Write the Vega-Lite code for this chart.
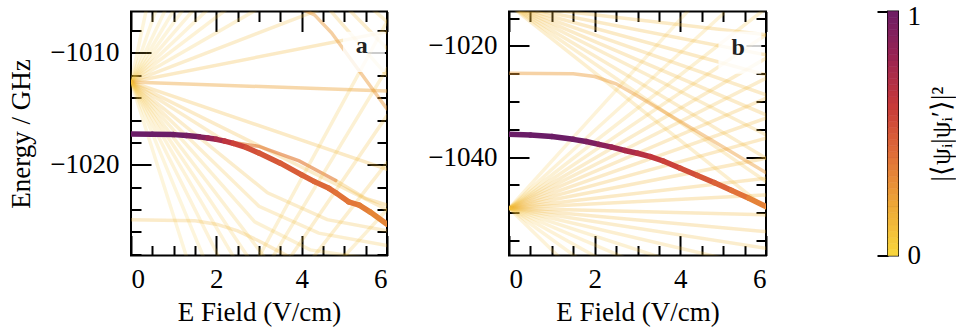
{
"$schema": "https://vega.github.io/schema/vega-lite/v6.json",
"background": "white",
"padding": {"left": 6, "top": 1.5, "right": 0, "bottom": 0},
"bounds": "flush",
"spacing": 122,
"config": {
  "view": {"stroke": "black", "strokeWidth": 2},
  "font": "Liberation Serif",
  "axis": {"labelFont": "Liberation Serif", "titleFont": "Liberation Serif", "labelFontSize": 27, "titleFontSize": 27, "titleFontWeight": "normal", "labelColor": "black", "titleColor": "black", "tickColor": "black", "tickWidth": 2, "domain": false, "grid": false, "format": "d"}
},
"datasets": {
"a_lines": [
{"id":"u1","E":0,"y":-1012.6,"v":0.14},{"id":"u1","E":6,"y":-1008.1,"v":0.14},
{"id":"u2","E":0,"y":-1012.6,"v":0.12},{"id":"u2","E":6,"y":-1003.8,"v":0.12},
{"id":"u3","E":0,"y":-1012.6,"v":0.1},{"id":"u3","E":6,"y":-999.4,"v":0.1},
{"id":"u4","E":0,"y":-1012.6,"v":0.09},{"id":"u4","E":6,"y":-995.2,"v":0.09},
{"id":"u5","E":0,"y":-1012.6,"v":0.08},{"id":"u5","E":6,"y":-991.0,"v":0.08},
{"id":"u6","E":0,"y":-1012.6,"v":0.08},{"id":"u6","E":3,"y":-999.4,"v":0.08},
{"id":"u7","E":0,"y":-1012.6,"v":0.07},{"id":"u7","E":3,"y":-996.7,"v":0.07},
{"id":"u8","E":0,"y":-1012.6,"v":0.07},{"id":"u8","E":2,"y":-999.8,"v":0.07},
{"id":"u9","E":0,"y":-1012.6,"v":0.07},{"id":"u9","E":1,"y":-1004.6,"v":0.07},
{"id":"u10","E":0,"y":-1012.6,"v":0.07},{"id":"u10","E":1,"y":-1001.6,"v":0.07},
{"id":"u11","E":0,"y":-1012.6,"v":0.07},{"id":"u11","E":0.5,"y":-1003.6,"v":0.07},
{"id":"h0","E":0,"y":-1012.6,"v":0.22},{"id":"h0","E":6,"y":-1013.4,"v":0.22},
{"id":"d1","E":0,"y":-1012.6,"v":0.14},{"id":"d1","E":6,"y":-1020.4,"v":0.14},
{"id":"d2","E":0,"y":-1012.6,"v":0.13},{"id":"d2","E":6,"y":-1024.0,"v":0.13},
{"id":"d3","E":0,"y":-1012.6,"v":0.12},{"id":"d3","E":3.2,"y":-1022.5,"v":0.12},{"id":"d3","E":4.6,"y":-1024.9,"v":0.12},{"id":"d3","E":6,"y":-1025.9,"v":0.12},
{"id":"d4","E":0,"y":-1012.6,"v":0.11},{"id":"d4","E":3,"y":-1023.7,"v":0.11},{"id":"d4","E":4.4,"y":-1026.1,"v":0.11},{"id":"d4","E":6,"y":-1027.2,"v":0.11},
{"id":"d5","E":0,"y":-1012.6,"v":0.1},{"id":"d5","E":2.9,"y":-1025.1,"v":0.1},{"id":"d5","E":4.2,"y":-1027.6,"v":0.1},{"id":"d5","E":6,"y":-1028.6,"v":0.1},
{"id":"d6","E":0,"y":-1012.6,"v":0.1},{"id":"d6","E":4,"y":-1032.6,"v":0.1},
{"id":"d7","E":0,"y":-1012.6,"v":0.09},{"id":"d7","E":4,"y":-1035.4,"v":0.09},
{"id":"d8","E":0,"y":-1012.6,"v":0.08},{"id":"d8","E":3,"y":-1032.1,"v":0.08},
{"id":"d9","E":0,"y":-1012.6,"v":0.08},{"id":"d9","E":3,"y":-1035.4,"v":0.08},
{"id":"d10","E":0,"y":-1012.6,"v":0.07},{"id":"d10","E":2,"y":-1031.0,"v":0.07},
{"id":"d11","E":0,"y":-1012.6,"v":0.07},{"id":"d11","E":2,"y":-1036.6,"v":0.07},
{"id":"t1","E":0,"y":-1012.6,"v":0.12},{"id":"t1","E":2.2,"y":-1017.9,"v":0.12},
{"id":"t2","E":2.2,"y":-1017.9,"v":0.35},{"id":"t2","E":3,"y":-1018.35,"v":0.35},{"id":"t2","E":3.94,"y":-1019.65,"v":0.35},{"id":"t2","E":4.8,"y":-1021.4,"v":0.35},
{"id":"t3","E":4.8,"y":-1021.4,"v":0.15},{"id":"t3","E":5.5,"y":-1023.0,"v":0.15},{"id":"t3","E":6,"y":-1023.6,"v":0.15},
{"id":"L","E":0,"y":-1024.9,"v":0.13},{"id":"L","E":1.5,"y":-1025.0,"v":0.13},{"id":"L","E":2,"y":-1025.3,"v":0.13},{"id":"L","E":2.5,"y":-1025.9,"v":0.13},{"id":"L","E":3,"y":-1026.8,"v":0.13},{"id":"L","E":3.5,"y":-1027.8,"v":0.13},{"id":"L","E":4,"y":-1028.8,"v":0.13},
{"id":"r1","E":2.9,"y":-1028.9,"v":0.1},{"id":"r1","E":6,"y":-1007.2,"v":0.1},
{"id":"r2","E":3.2,"y":-1029.0,"v":0.1},{"id":"r2","E":6,"y":-1011.4,"v":0.1},
{"id":"r3","E":3.6,"y":-1029.0,"v":0.11},{"id":"r3","E":6,"y":-1015.6,"v":0.11},
{"id":"r4","E":4.1,"y":-1029.1,"v":0.11},{"id":"r4","E":6,"y":-1019.8,"v":0.11},
{"id":"r5","E":4.8,"y":-1029.0,"v":0.1},{"id":"r5","E":6,"y":-1024.0,"v":0.1},
{"id":"q1","E":3.9,"y":-1005.9,"v":0.25},{"id":"q1","E":4.3,"y":-1006.6,"v":0.25},{"id":"q1","E":4.7,"y":-1008.2,"v":0.25},{"id":"q1","E":6,"y":-1015.0,"v":0.25},
{"id":"q2","E":4.6,"y":-1005.9,"v":0.12},{"id":"q2","E":6,"y":-1012.0,"v":0.12},
{"id":"q3","E":5.05,"y":-1005.9,"v":0.12},{"id":"q3","E":6,"y":-1009.6,"v":0.12},
{"id":"q4","E":5.6,"y":-1005.9,"v":0.1},{"id":"q4","E":6,"y":-1007.2,"v":0.1}
],
"a_main": [
{"id":"s1","E":0,"y":-1017.25,"v":1},{"id":"s1","E":0.5,"y":-1017.26,"v":1},
{"id":"s2","E":0.5,"y":-1017.26,"v":1},{"id":"s2","E":1.0,"y":-1017.3,"v":1},
{"id":"s3","E":1.0,"y":-1017.3,"v":0.99},{"id":"s3","E":1.3,"y":-1017.38,"v":0.99},
{"id":"s4","E":1.3,"y":-1017.38,"v":0.955},{"id":"s4","E":1.6,"y":-1017.5,"v":0.955},
{"id":"s5","E":1.6,"y":-1017.5,"v":0.895},{"id":"s5","E":1.8,"y":-1017.6,"v":0.895},
{"id":"s6","E":1.8,"y":-1017.6,"v":0.82},{"id":"s6","E":2.0,"y":-1017.72,"v":0.82},
{"id":"s7","E":2.0,"y":-1017.72,"v":0.73},{"id":"s7","E":2.2,"y":-1017.88,"v":0.73},
{"id":"s8","E":2.2,"y":-1017.88,"v":0.64},{"id":"s8","E":2.4,"y":-1018.08,"v":0.64},
{"id":"s9","E":2.4,"y":-1018.08,"v":0.57},{"id":"s9","E":2.7,"y":-1018.45,"v":0.57},
{"id":"s10","E":2.7,"y":-1018.45,"v":0.52},{"id":"s10","E":3.0,"y":-1018.95,"v":0.52},
{"id":"s11","E":3.0,"y":-1018.95,"v":0.49},{"id":"s11","E":3.5,"y":-1019.85,"v":0.49},
{"id":"s12","E":3.5,"y":-1019.85,"v":0.47},{"id":"s12","E":4.0,"y":-1020.9,"v":0.47},
{"id":"s13","E":4.0,"y":-1020.9,"v":0.45},{"id":"s13","E":4.3,"y":-1021.5,"v":0.45},
{"id":"s14","E":4.3,"y":-1021.5,"v":0.43},{"id":"s14","E":4.64,"y":-1022.1,"v":0.43},
{"id":"s15","E":4.64,"y":-1022.1,"v":0.41},{"id":"s15","E":4.8,"y":-1022.5,"v":0.41},
{"id":"s16","E":4.8,"y":-1022.5,"v":0.39},{"id":"s16","E":5.1,"y":-1023.3,"v":0.39},
{"id":"s17","E":5.1,"y":-1023.3,"v":0.37},{"id":"s17","E":5.35,"y":-1023.6,"v":0.37},
{"id":"s18","E":5.35,"y":-1023.6,"v":0.35},{"id":"s18","E":5.6,"y":-1024.2,"v":0.35},
{"id":"s19","E":5.6,"y":-1024.2,"v":0.32},{"id":"s19","E":6.0,"y":-1025.3,"v":0.32}
],
"b_lines": [
{"id":"bu1","E":0,"y":-1049.2,"v":0.14},{"id":"bu1","E":6,"y":-1046.8,"v":0.14},
{"id":"bu2","E":0,"y":-1049.2,"v":0.14},{"id":"bu2","E":6,"y":-1043.8,"v":0.14},
{"id":"bu3","E":0,"y":-1049.2,"v":0.14},{"id":"bu3","E":6,"y":-1040.2,"v":0.14},
{"id":"bu4","E":0,"y":-1049.2,"v":0.14},{"id":"bu4","E":6,"y":-1036.6,"v":0.14},
{"id":"bu5","E":0,"y":-1049.2,"v":0.13},{"id":"bu5","E":6,"y":-1033.0,"v":0.13},
{"id":"bu6","E":0,"y":-1049.2,"v":0.13},{"id":"bu6","E":6,"y":-1029.4,"v":0.13},
{"id":"bu7","E":0,"y":-1049.2,"v":0.12},{"id":"bu7","E":6,"y":-1025.8,"v":0.12},
{"id":"bu8","E":0,"y":-1049.2,"v":0.12},{"id":"bu8","E":6,"y":-1022.2,"v":0.12},
{"id":"bu9","E":0,"y":-1049.2,"v":0.11},{"id":"bu9","E":6,"y":-1018.0,"v":0.11},
{"id":"bu10","E":0,"y":-1049.2,"v":0.1},{"id":"bu10","E":6,"y":-1013.2,"v":0.1},
{"id":"bu11","E":0,"y":-1049.2,"v":0.09},{"id":"bu11","E":5,"y":-1014.2,"v":0.09},
{"id":"bu12","E":0,"y":-1049.2,"v":0.08},{"id":"bu12","E":4.2,"y":-1013.5,"v":0.08},
{"id":"bd1","E":0,"y":-1049.2,"v":0.14},{"id":"bd1","E":6,"y":-1050.4,"v":0.14},
{"id":"bd2","E":0,"y":-1049.2,"v":0.13},{"id":"bd2","E":6,"y":-1053.4,"v":0.13},
{"id":"bd3","E":0,"y":-1049.2,"v":0.12},{"id":"bd3","E":6,"y":-1056.4,"v":0.12},
{"id":"bd4","E":0,"y":-1049.2,"v":0.11},{"id":"bd4","E":5,"y":-1058.2,"v":0.11},
{"id":"bd5","E":0,"y":-1049.2,"v":0.1},{"id":"bd5","E":3.6,"y":-1058.2,"v":0.1},
{"id":"bd6","E":0,"y":-1049.2,"v":0.09},{"id":"bd6","E":2.8,"y":-1058.44,"v":0.09},
{"id":"bd7","E":0,"y":-1049.2,"v":0.09},{"id":"bd7","E":2.2,"y":-1058.66,"v":0.09},
{"id":"bd8","E":0,"y":-1049.2,"v":0.08},{"id":"bd8","E":1.7,"y":-1058.72,"v":0.08},
{"id":"bd9","E":0,"y":-1049.2,"v":0.08},{"id":"bd9","E":1.3,"y":-1058.95,"v":0.08},
{"id":"bt1","E":0,"y":-1012.6,"v":0.14},{"id":"bt1","E":6,"y":-1018.0,"v":0.14},
{"id":"bt2","E":0,"y":-1012.6,"v":0.14},{"id":"bt2","E":6,"y":-1021.6,"v":0.14},
{"id":"bt3","E":0,"y":-1012.6,"v":0.14},{"id":"bt3","E":6,"y":-1025.2,"v":0.14},
{"id":"bt4","E":0,"y":-1012.6,"v":0.13},{"id":"bt4","E":6,"y":-1028.8,"v":0.13},
{"id":"bt5","E":0,"y":-1012.6,"v":0.13},{"id":"bt5","E":6,"y":-1032.4,"v":0.13},
{"id":"bt6","E":0,"y":-1012.6,"v":0.12},{"id":"bt6","E":6,"y":-1036.0,"v":0.12},
{"id":"bt7","E":0,"y":-1012.6,"v":0.12},{"id":"bt7","E":6,"y":-1040.2,"v":0.12},
{"id":"bt8","E":0,"y":-1012.6,"v":0.11},{"id":"bt8","E":6,"y":-1044.4,"v":0.11},
{"id":"bt9","E":0,"y":-1012.6,"v":0.11},{"id":"bt9","E":6,"y":-1049.2,"v":0.11},
{"id":"bf","E":0,"y":-1024.9,"v":0.24},{"id":"bf","E":1.5,"y":-1025.0,"v":0.24},{"id":"bf","E":2.0,"y":-1025.5,"v":0.24},{"id":"bf","E":2.5,"y":-1026.8,"v":0.24},{"id":"bf","E":3.0,"y":-1029.0,"v":0.24},{"id":"bf","E":3.5,"y":-1031.3,"v":0.24},{"id":"bf","E":4.0,"y":-1033.6,"v":0.24},{"id":"bf","E":5.0,"y":-1038.2,"v":0.24},{"id":"bf","E":6.0,"y":-1042.8,"v":0.24}
],
"b_main": [
{"id":"m1","E":0,"y":-1035.9,"v":1},{"id":"m1","E":0.5,"y":-1036.0,"v":1},
{"id":"m2","E":0.5,"y":-1036.0,"v":1},{"id":"m2","E":1.0,"y":-1036.3,"v":1},
{"id":"m3","E":1.0,"y":-1036.3,"v":0.995},{"id":"m3","E":1.5,"y":-1036.8,"v":0.995},
{"id":"m4","E":1.5,"y":-1036.8,"v":0.975},{"id":"m4","E":1.8,"y":-1037.2,"v":0.975},
{"id":"m5","E":1.8,"y":-1037.2,"v":0.93},{"id":"m5","E":2.1,"y":-1037.7,"v":0.93},
{"id":"m6","E":2.1,"y":-1037.7,"v":0.865},{"id":"m6","E":2.4,"y":-1038.2,"v":0.865},
{"id":"m7","E":2.4,"y":-1038.2,"v":0.795},{"id":"m7","E":2.7,"y":-1038.8,"v":0.795},
{"id":"m8","E":2.7,"y":-1038.8,"v":0.73},{"id":"m8","E":3.0,"y":-1039.3,"v":0.73},
{"id":"m9","E":3.0,"y":-1039.3,"v":0.675},{"id":"m9","E":3.3,"y":-1039.9,"v":0.675},
{"id":"m10","E":3.3,"y":-1039.9,"v":0.625},{"id":"m10","E":3.6,"y":-1040.7,"v":0.625},
{"id":"m11","E":3.6,"y":-1040.7,"v":0.575},{"id":"m11","E":4.0,"y":-1042.0,"v":0.575},
{"id":"m12","E":4.0,"y":-1042.0,"v":0.53},{"id":"m12","E":4.4,"y":-1043.3,"v":0.53},
{"id":"m13","E":4.4,"y":-1043.3,"v":0.49},{"id":"m13","E":4.8,"y":-1044.6,"v":0.49},
{"id":"m14","E":4.8,"y":-1044.6,"v":0.445},{"id":"m14","E":5.2,"y":-1046.0,"v":0.445},
{"id":"m15","E":5.2,"y":-1046.0,"v":0.39},{"id":"m15","E":5.6,"y":-1047.4,"v":0.39},
{"id":"m16","E":5.6,"y":-1047.4,"v":0.33},{"id":"m16","E":6.0,"y":-1048.9,"v":0.33}
],
"a_box": [{"x1":4.97,"x2":5.95,"y1":-1011.7,"y2":-1008.1,"tx":5.41,"ty":-1009.35,"t":"a"}],
"b_box": [{"x1":4.89,"x2":5.89,"y1":-1025.0,"y2":-1017.4,"tx":5.35,"ty":-1020.4,"t":"b"}],
"cbar": [
{"lo":0,"hi":0.025},{"lo":0.025,"hi":0.05},{"lo":0.05,"hi":0.075},{"lo":0.075,"hi":0.1},
{"lo":0.1,"hi":0.125},{"lo":0.125,"hi":0.15},{"lo":0.15,"hi":0.175},{"lo":0.175,"hi":0.2},
{"lo":0.2,"hi":0.225},{"lo":0.225,"hi":0.25},{"lo":0.25,"hi":0.275},{"lo":0.275,"hi":0.3},
{"lo":0.3,"hi":0.325},{"lo":0.325,"hi":0.35},{"lo":0.35,"hi":0.375},{"lo":0.375,"hi":0.4},
{"lo":0.4,"hi":0.425},{"lo":0.425,"hi":0.45},{"lo":0.45,"hi":0.475},{"lo":0.475,"hi":0.5},
{"lo":0.5,"hi":0.525},{"lo":0.525,"hi":0.55},{"lo":0.55,"hi":0.575},{"lo":0.575,"hi":0.6},
{"lo":0.6,"hi":0.625},{"lo":0.625,"hi":0.65},{"lo":0.65,"hi":0.675},{"lo":0.675,"hi":0.7},
{"lo":0.7,"hi":0.725},{"lo":0.725,"hi":0.75},{"lo":0.75,"hi":0.775},{"lo":0.775,"hi":0.8},
{"lo":0.8,"hi":0.825},{"lo":0.825,"hi":0.85},{"lo":0.85,"hi":0.875},{"lo":0.875,"hi":0.9},
{"lo":0.9,"hi":0.925},{"lo":0.925,"hi":0.95},{"lo":0.95,"hi":0.975},{"lo":0.975,"hi":1}
]
},
"hconcat": [
{
 "width": 256, "height": 244,
 "resolve": {"axis": {"x": "independent", "y": "independent"}},
 "layer": [
  {"data": {"name": "a_lines"}, "mark": {"type": "line", "clip": true, "strokeWidth": 3.5, "strokeCap": "round"},
   "encoding": {
    "x": {"field": "E", "type": "quantitative", "scale": {"domain": [0, 6], "nice": false, "zero": false}, "axis": {"orient": "bottom", "values": [0, 2, 4, 6], "offset": -20, "tickSize": 20, "labelPadding": 11, "title": "E Field (V/cm)", "titlePadding": 7}},
    "y": {"field": "y", "type": "quantitative", "scale": {"domain": [-1028.1, -1006.3], "nice": false, "zero": false}, "axis": {"orient": "left", "values": [-1020, -1010], "offset": -20, "tickSize": 20, "labelPadding": 12, "title": "Energy / GHz", "titlePadding": 14}},
    "detail": {"field": "id"},
    "color": {"field": "v", "type": "quantitative", "legend": null, "scale": {"type": "linear", "domain": [0, 0.2, 0.4, 0.6, 0.8, 1], "range": ["#f8d43c", "#eda637", "#e06f38", "#c83a39", "#9a2352", "#6a1d67"], "interpolate": "rgb"}},
    "opacity": {"field": "v", "type": "quantitative", "legend": null, "scale": {"type": "linear", "domain": [0, 0.1, 0.3, 0.5, 1], "range": [0.08, 0.22, 0.55, 0.88, 1]}}
   }},
  {"data": {"name": "a_main"}, "mark": {"type": "line", "clip": true, "strokeWidth": 5.5, "strokeCap": "round"},
   "encoding": {
    "x": {"field": "E", "type": "quantitative", "scale": {"domain": [0, 6], "nice": false, "zero": false}, "axis": {"orient": "bottom", "values": [0.5, 1, 1.5, 2.5, 3, 3.5, 4.5, 5, 5.5], "offset": -10, "tickSize": 10, "labels": false, "title": null}},
    "y": {"field": "y", "type": "quantitative", "scale": {"domain": [-1028.1, -1006.3], "nice": false, "zero": false}, "axis": {"orient": "left", "values": [-1028, -1026, -1024, -1022, -1018, -1016, -1014, -1012, -1008], "offset": -10, "tickSize": 10, "labels": false, "title": null}},
    "detail": {"field": "id"},
    "color": {"field": "v", "type": "quantitative", "legend": null, "scale": {"type": "linear", "domain": [0, 0.2, 0.4, 0.6, 0.8, 1], "range": ["#f8d43c", "#eda637", "#e06f38", "#c83a39", "#9a2352", "#6a1d67"], "interpolate": "rgb"}}
   }},
  {"data": {"name": "a_box"}, "mark": {"type": "rect", "fill": "white", "fillOpacity": 0.8},
   "encoding": {
    "x": {"field": "x1", "type": "quantitative", "scale": {"domain": [0, 6], "nice": false, "zero": false}, "axis": {"orient": "top", "values": [0, 2, 4, 6], "offset": -20, "tickSize": 20, "labels": false, "title": null}},
    "x2": {"field": "x2"},
    "y": {"field": "y1", "type": "quantitative", "scale": {"domain": [-1028.1, -1006.3], "nice": false, "zero": false}, "axis": {"orient": "right", "values": [-1020, -1010], "offset": -20, "tickSize": 20, "labels": false, "title": null}},
    "y2": {"field": "y2"}
   }},
  {"data": {"name": "a_box"}, "mark": {"type": "text", "font": "Liberation Serif", "fontSize": 24, "fontWeight": "bold", "color": "#222222", "baseline": "middle", "align": "center"},
   "encoding": {
    "x": {"field": "tx", "type": "quantitative", "scale": {"domain": [0, 6], "nice": false, "zero": false}, "axis": {"orient": "top", "values": [0.5, 1, 1.5, 2.5, 3, 3.5, 4.5, 5, 5.5], "offset": -10, "tickSize": 10, "labels": false, "title": null}},
    "y": {"field": "ty", "type": "quantitative", "scale": {"domain": [-1028.1, -1006.3], "nice": false, "zero": false}, "axis": {"orient": "right", "values": [-1028, -1026, -1024, -1022, -1018, -1016, -1014, -1012, -1008], "offset": -10, "tickSize": 10, "labels": false, "title": null}},
    "text": {"field": "t"}
   }}
 ]
},
{
 "width": 257, "height": 244,
 "resolve": {"axis": {"x": "independent", "y": "independent"}},
 "layer": [
  {"data": {"name": "b_lines"}, "mark": {"type": "line", "clip": true, "strokeWidth": 3.5, "strokeCap": "round"},
   "encoding": {
    "x": {"field": "E", "type": "quantitative", "scale": {"domain": [0, 6], "nice": false, "zero": false}, "axis": {"orient": "bottom", "values": [0, 2, 4, 6], "offset": -20, "tickSize": 20, "labelPadding": 11, "title": "E Field (V/cm)", "titlePadding": 7}},
    "y": {"field": "y", "type": "quantitative", "scale": {"domain": [-1057.7, -1013.8], "nice": false, "zero": false}, "axis": {"orient": "left", "values": [-1040, -1020], "offset": -20, "tickSize": 20, "labelPadding": 12, "title": null}},
    "detail": {"field": "id"},
    "color": {"field": "v", "type": "quantitative", "legend": null, "scale": {"type": "linear", "domain": [0, 0.2, 0.4, 0.6, 0.8, 1], "range": ["#f8d43c", "#eda637", "#e06f38", "#c83a39", "#9a2352", "#6a1d67"], "interpolate": "rgb"}},
    "opacity": {"field": "v", "type": "quantitative", "legend": null, "scale": {"type": "linear", "domain": [0, 0.1, 0.3, 0.5, 1], "range": [0.08, 0.22, 0.55, 0.88, 1]}}
   }},
  {"data": {"name": "b_main"}, "mark": {"type": "line", "clip": true, "strokeWidth": 5.5, "strokeCap": "round"},
   "encoding": {
    "x": {"field": "E", "type": "quantitative", "scale": {"domain": [0, 6], "nice": false, "zero": false}, "axis": {"orient": "bottom", "values": [0.5, 1, 1.5, 2.5, 3, 3.5, 4.5, 5, 5.5], "offset": -10, "tickSize": 10, "labels": false, "title": null}},
    "y": {"field": "y", "type": "quantitative", "scale": {"domain": [-1057.7, -1013.8], "nice": false, "zero": false}, "axis": {"orient": "left", "values": [-1055, -1050, -1045, -1035, -1030, -1025, -1015], "offset": -10, "tickSize": 10, "labels": false, "title": null}},
    "detail": {"field": "id"},
    "color": {"field": "v", "type": "quantitative", "legend": null, "scale": {"type": "linear", "domain": [0, 0.2, 0.4, 0.6, 0.8, 1], "range": ["#f8d43c", "#eda637", "#e06f38", "#c83a39", "#9a2352", "#6a1d67"], "interpolate": "rgb"}}
   }},
  {"data": {"name": "b_box"}, "mark": {"type": "rect", "fill": "white", "fillOpacity": 0.8},
   "encoding": {
    "x": {"field": "x1", "type": "quantitative", "scale": {"domain": [0, 6], "nice": false, "zero": false}, "axis": {"orient": "top", "values": [0, 2, 4, 6], "offset": -20, "tickSize": 20, "labels": false, "title": null}},
    "x2": {"field": "x2"},
    "y": {"field": "y1", "type": "quantitative", "scale": {"domain": [-1057.7, -1013.8], "nice": false, "zero": false}, "axis": {"orient": "right", "values": [-1040, -1020], "offset": -20, "tickSize": 20, "labels": false, "title": null}},
    "y2": {"field": "y2"}
   }},
  {"data": {"name": "b_box"}, "mark": {"type": "text", "font": "Liberation Serif", "fontSize": 24, "fontWeight": "bold", "color": "#222222", "baseline": "middle", "align": "center"},
   "encoding": {
    "x": {"field": "tx", "type": "quantitative", "scale": {"domain": [0, 6], "nice": false, "zero": false}, "axis": {"orient": "top", "values": [0.5, 1, 1.5, 2.5, 3, 3.5, 4.5, 5, 5.5], "offset": -10, "tickSize": 10, "labels": false, "title": null}},
    "y": {"field": "ty", "type": "quantitative", "scale": {"domain": [-1057.7, -1013.8], "nice": false, "zero": false}, "axis": {"orient": "right", "values": [-1055, -1050, -1045, -1035, -1030, -1025, -1015], "offset": -10, "tickSize": 10, "labels": false, "title": null}},
    "text": {"field": "t"}
   }}
 ]
},
{
 "width": 10, "height": 244,
 "resolve": {"axis": {"y": "independent"}},
 "layer": [
  {"data": {"name": "cbar"}, "mark": {"type": "rect", "strokeWidth": 0.6},
   "encoding": {
    "x": {"datum": 0, "type": "quantitative", "scale": {"domain": [0, 1], "nice": false, "zero": false}, "axis": null},
    "x2": {"datum": 1},
    "y": {"field": "lo", "type": "quantitative", "scale": {"domain": [0, 1], "nice": false, "zero": false}, "axis": {"orient": "left", "values": [0, 1], "tickSize": 11, "labels": false, "title": null}},
    "y2": {"field": "hi"},
    "color": {"field": "lo", "type": "quantitative", "legend": null, "scale": {"type": "linear", "domain": [0, 0.2, 0.4, 0.6, 0.8, 1], "range": ["#f8d43c", "#eda637", "#e06f38", "#c83a39", "#9a2352", "#6a1d67"], "interpolate": "rgb"}},
    "stroke": {"field": "lo", "type": "quantitative", "legend": null, "scale": {"type": "linear", "domain": [0, 0.2, 0.4, 0.6, 0.8, 1], "range": ["#f8d43c", "#eda637", "#e06f38", "#c83a39", "#9a2352", "#6a1d67"], "interpolate": "rgb"}}
   }},
  {"data": {"name": "cbar"}, "mark": {"type": "rect", "opacity": 0},
   "encoding": {
    "x": {"datum": 0, "type": "quantitative", "scale": {"domain": [0, 1], "nice": false, "zero": false}, "axis": null},
    "x2": {"datum": 1},
    "y": {"field": "lo", "type": "quantitative", "scale": {"domain": [0, 1], "nice": false, "zero": false}, "axis": {"orient": "right", "values": [0], "tickSize": 0, "labelPadding": 9, "title": "|⟨ψᵢ|ψᵢ′⟩|²", "titleAngle": 270, "titlePadding": 35}},
    "y2": {"field": "hi"}
   }},
  {"data": {"name": "cbar"}, "mark": {"type": "rect", "opacity": 0},
   "encoding": {
    "x": {"datum": 0, "type": "quantitative", "scale": {"domain": [0, 1], "nice": false, "zero": false}, "axis": null},
    "x2": {"datum": 1},
    "y": {"field": "lo", "type": "quantitative", "scale": {"domain": [0, 1], "nice": false, "zero": false}, "axis": {"orient": "left", "values": [0.2, 0.4, 0.6, 0.8], "offset": -10, "tickSize": 10, "tickWidth": 1.5, "labels": false, "title": null}},
    "y2": {"field": "hi"}
   }},
  {"data": {"name": "cbar"}, "mark": {"type": "rect", "opacity": 0},
   "encoding": {
    "x": {"datum": 0, "type": "quantitative", "scale": {"domain": [0, 1], "nice": false, "zero": false}, "axis": null},
    "x2": {"datum": 1},
    "y": {"field": "lo", "type": "quantitative", "scale": {"domain": [0, 1], "nice": false, "zero": false}, "axis": {"orient": "right", "values": [1], "tickSize": 0, "labelPadding": 9, "labelBaseline": "middle", "labelOffset": 5, "title": null}},
    "y2": {"field": "hi"}
   }}
 ]
}
]
}
